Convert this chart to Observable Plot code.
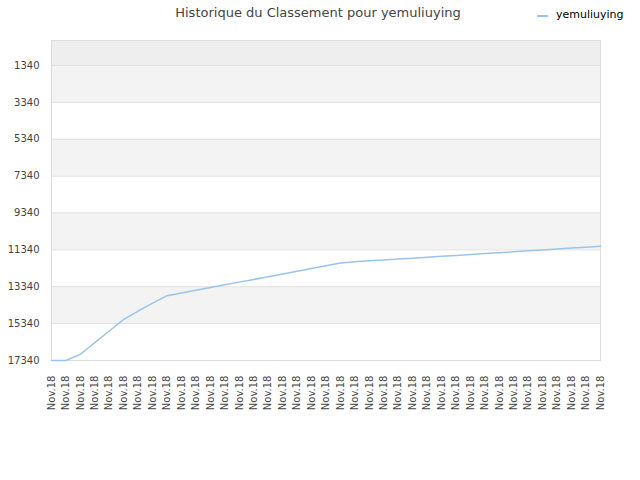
<!DOCTYPE html>
<html>
<head>
<meta charset="utf-8">
<script src="https://cdn.jsdelivr.net/npm/d3@7"></script>
<script src="https://cdn.jsdelivr.net/npm/@observablehq/plot@0.6"></script>
<style>
  body { margin: 0; background: #fff; font-family: "DejaVu Sans", sans-serif; }
  #wrap { position: relative; width: 640px; height: 480px; }
  #title { position: absolute; top: 5px; left: 0; width: 636px; text-align: center; font-size: 13px; color: #444; white-space: nowrap; }
  #legend { position: absolute; top: 8px; left: 537px; font-size: 11px; color: #000; white-space: nowrap; }
  #legend .sw { position: absolute; left: 0; top: 7px; width: 11px; height: 0; border-top: 2px solid #99c4f0; }
  #legend .lb { position: absolute; left: 19px; top: 0; }
  #chart { position: absolute; top: 0; left: 0; }
</style>
</head>
<body>
<div id="wrap">
  <div id="chart"></div>
  <div id="title">Historique du Classement pour yemuliuying</div>
  <div id="legend"><div class="sw"></div><div class="lb">yemuliuying</div></div>
</div>
<script>
const seriesName = "yemuliuying";
const xLabels = Array.from({length: 39}, () => "Nov.18");
const ranks = [17340, 17340, 17000, 16368, 15739, 15111, 14657, 14226, 13825, 13678,
  13531, 13384, 13236, 13089, 12942, 12794, 12647, 12500, 12352, 12205,
  12058, 11985, 11936, 11887, 11837, 11788, 11739, 11689, 11640, 11591,
  11541, 11492, 11443, 11393, 11344, 11295, 11245, 11196, 11147];
const yTicks = [1340, 3340, 5340, 7340, 9340, 11340, 13340, 15340, 17340];
const yTop = -15;
const bandFrom = [yTop, 1340, 5340, 9340, 13340];
const bandTo = [1340, 3340, 7340, 11340, 15340];

const idx = xLabels.map((_, i) => i);
const last = idx.length - 1;
const data = idx.map(i => ({i, rank: ranks[i], name: seriesName}));
const bands = bandFrom.map((f, k) => ({k, y1: f, y2: bandTo[k]}));

const chart = Plot.plot({
  width: 640,
  height: 480,
  marginLeft: 51,
  marginRight: 40,
  marginTop: 40,
  marginBottom: 120,
  style: {fontFamily: "DejaVu Sans, sans-serif", background: "transparent"},
  x: {type: "linear", domain: [0, last]},
  y: {domain: [17340, yTop]},
  marks: [
    Plot.rect(bands, {x1: 0, x2: last, y1: "y1", y2: "y2", fill: d => d.k === 0 ? "#eeeeee" : "#f3f3f3"}),
    Plot.ruleY(yTicks, {stroke: "#e0e0e0", strokeWidth: 1}),
    Plot.frame({stroke: "#dddddd"}),
    Plot.axisY(yTicks, {tickSize: 0, tickPadding: 12, fontSize: 10, fill: "#444", label: null, tickFormat: d => String(d)}),
    Plot.axisX(idx, {tickSize: 0, tickPadding: 15, tickRotate: -90, fontSize: 10, fill: "#444", label: null, tickFormat: i => xLabels[i]}),
    Plot.line(data, {x: "i", y: "rank", stroke: "#99c4f0", strokeWidth: 1.5})
  ]
});
document.getElementById("chart").appendChild(chart);
</script>
</body>
</html>
